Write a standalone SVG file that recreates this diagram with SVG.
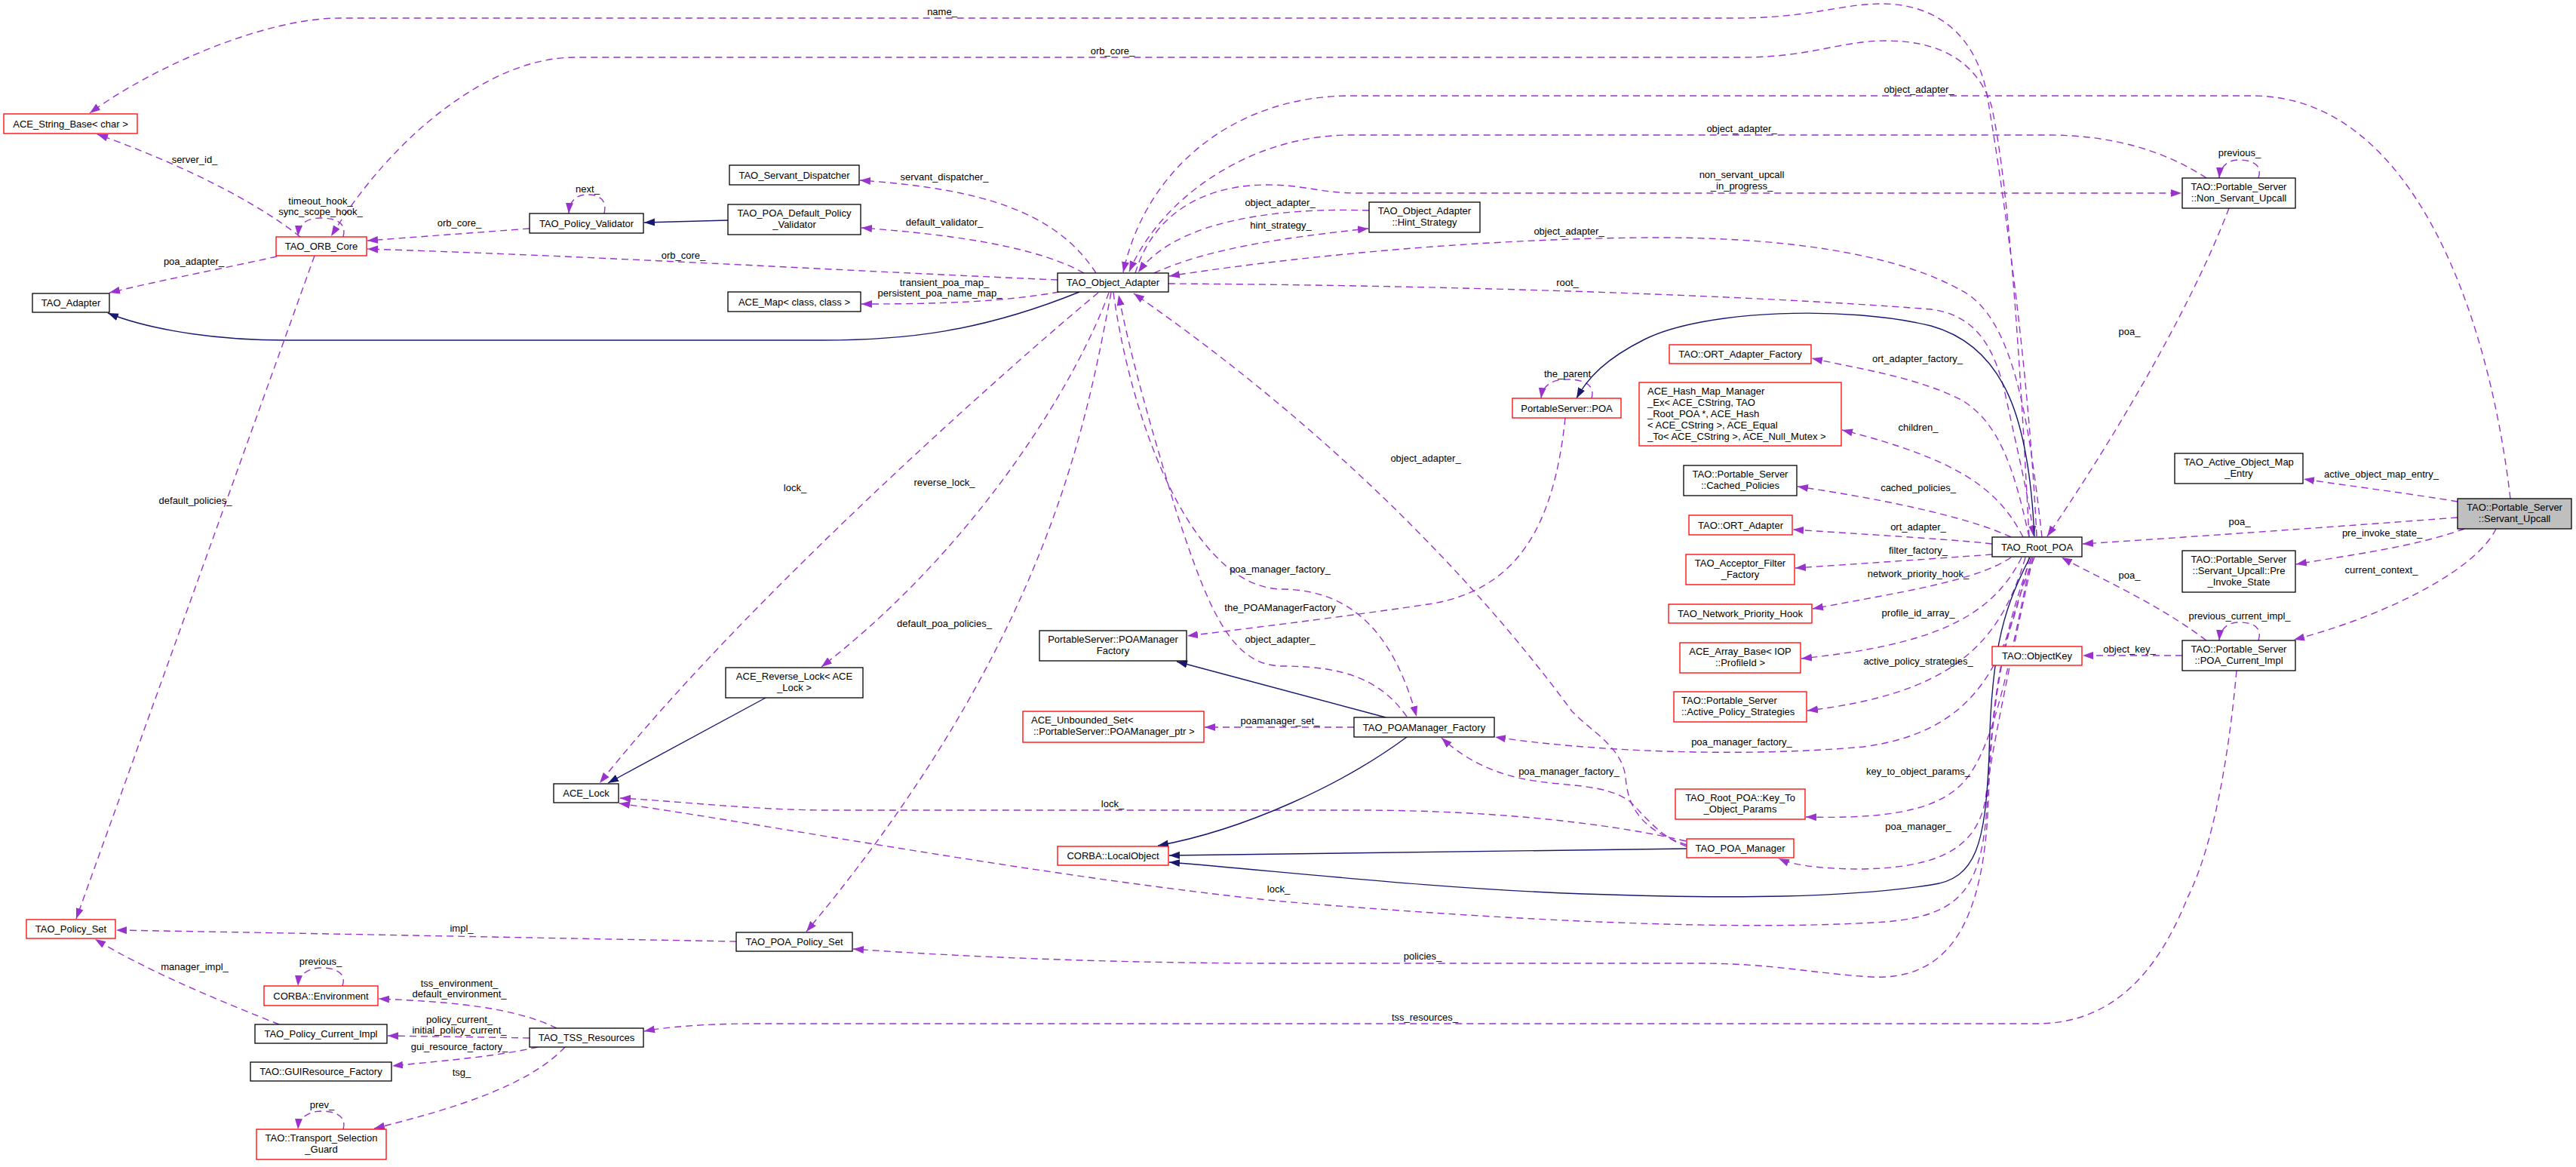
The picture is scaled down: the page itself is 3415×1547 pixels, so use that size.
<svg xmlns="http://www.w3.org/2000/svg" width="3415" height="1547" viewBox="0 0 3415 1547">
<style>
text{font-family:"Liberation Sans",Arial,Helvetica,sans-serif;font-size:13px;fill:#000}
.nd rect{fill:#fff;stroke:#000;stroke-width:1.3}
.rd rect{stroke:#f00}
.gy rect{fill:#bfbfbf}
.nd text{text-anchor:middle}
.nd text.l{text-anchor:start}
.e{fill:none;stroke:#9a32cd;stroke-width:1.4;stroke-dasharray:9,6;marker-end:url(#ap)}
.i{fill:none;stroke:#191970;stroke-width:1.4;marker-end:url(#an)}
.lb text{text-anchor:middle}
</style>
<defs>
<marker id="ap" markerUnits="userSpaceOnUse" viewBox="0 0 15 11" markerWidth="15" markerHeight="11" refX="14" refY="5.5" orient="auto"><path d="M0,0.5 L14,5.5 L0,10.5 z" fill="#9a32cd"/></marker>
<marker id="an" markerUnits="userSpaceOnUse" viewBox="0 0 15 11" markerWidth="15" markerHeight="11" refX="14" refY="5.5" orient="auto"><path d="M0,0.5 L14,5.5 L0,10.5 z" fill="#191970"/></marker>
</defs>
<rect width="3415" height="1547" fill="#fff"/>
<g id="connectors">
<path class="e" d="M2700,711 C2690,500 2660,280 2635,130 C2620,40 2560,5 2495,5 C2440,5 2400,24 2300,24 L450,24 C350,24 200,90 119,150"/>
<path class="e" d="M2690,711 C2680,520 2665,250 2640,140 C2620,80 2570,54 2500,54 C2440,54 2400,76 2310,76 L762,76 C650,76 520,180 439,313"/>
<path class="e" d="M3328,661 C3300,420 3200,127 2986,127 L1790,127 C1640,127 1520,220 1489,361"/>
<path class="e" d="M2925,236 C2870,200 2800,179 2715,179 L1790,179 C1660,179 1540,260 1497,360"/>
<path class="e" d="M1505,362 C1530,280 1600,245 1680,245 C1730,245 1750,256 1800,256 L2892,256"/>
<path class="e" d="M1815,279 C1700,275 1560,290 1509,361"/>
<path class="e" d="M1530,362 C1600,330 1700,315 1814,303"/>
<path class="e" d="M2707,712 C2690,560 2670,420 2600,385 C2530,345 2400,315 2200,315 C2000,315 1750,335 1550,366"/>
<path class="e" d="M1549,376 C1900,378 2300,390 2560,410 C2620,418 2645,460 2660,530 C2675,600 2690,660 2696,711"/>
<path class="e" d="M2690,712 C2670,620 2650,560 2600,530 C2540,500 2470,490 2402,475"/>
<path class="e" d="M2682,712 C2650,650 2600,610 2442,570"/>
<path class="e" d="M2666,712 C2620,690 2520,665 2383,645"/>
<path class="e" d="M2641,721 C2600,716 2500,710 2377,702"/>
<path class="e" d="M2641,735 C2600,738 2500,745 2380,753"/>
<path class="e" d="M2666,739 C2620,770 2520,785 2403,807"/>
<path class="e" d="M2680,739 C2640,820 2560,855 2388,873"/>
<path class="e" d="M2685,739 C2650,860 2580,920 2396,942"/>
<path class="e" d="M2690,739 C2660,880 2620,970 2470,990 C2300,1005 2100,995 1982,977"/>
<path class="e" d="M2693,739 C2660,900 2640,1000 2600,1040 C2560,1080 2480,1085 2394,1083"/>
<path class="e" d="M2695,739 C2660,900 2640,1000 2632,1060 C2620,1130 2560,1150 2470,1152 C2420,1152 2380,1148 2358,1138"/>
<path class="e" d="M2693,739 C2650,850 2640,950 2635,1050 C2630,1180 2600,1213 2500,1222 C2300,1235 2000,1220 1700,1195 C1400,1165 1000,1090 821,1065"/>
<path class="e" d="M2697,739 C2650,850 2640,950 2636,1060 C2630,1230 2580,1300 2480,1295 C2400,1290 2350,1277 2250,1277 L1700,1277 C1500,1277 1300,1270 1131,1258"/>
<path class="e" d="M2965,889 C2955,1000 2935,1120 2900,1190 C2860,1290 2800,1357 2700,1357 L1000,1357 C930,1357 880,1362 854,1367"/>
<path class="e" d="M1456,388 C1380,450 1000,780 795,1038"/>
<path class="e" d="M1470,388 C1430,500 1300,720 1089,884"/>
<path class="e" d="M1473,388 C1440,560 1390,850 1069,1235"/>
<path class="e" d="M1476,388 C1500,560 1580,780 1700,781 C1800,782 1850,850 1878,950"/>
<path class="e" d="M1865,950 C1830,900 1780,883 1700,883 C1630,883 1600,800 1560,680 C1530,580 1500,480 1483,391"/>
<path class="e" d="M2236,1120 C2175,1100 2158,1070 2155,1030 C2150,990 2110,970 2084,943 C1950,760 1750,560 1503,389"/>
<path class="e" d="M2075,554 C2060,700 2010,780 1900,800 C1800,815 1680,830 1574,843"/>
<path class="e" d="M1795,964 L1597,964"/>
<path class="e" d="M2236,1122 C2200,1110 2180,1080 2160,1062 C2130,1040 2080,1042 2040,1036 C1980,1028 1940,1005 1911,978"/>
<path class="e" d="M2235,1115 C2150,1095 2000,1074 1800,1074 L1100,1074 C1000,1074 900,1062 822,1058"/>
<path class="e" d="M1453,362 C1400,280 1300,250 1140,239"/>
<path class="e" d="M1437,362 C1380,330 1280,312 1142,302"/>
<path class="e" d="M1404,387 C1330,400 1250,403 1142,403"/>
<path class="e" d="M1402,371 C1100,358 800,340 487,330"/>
<path class="e" d="M702,303 L487,319"/>
<path class="e" d="M367,340 C300,355 220,370 145,388"/>
<path class="e" d="M398,314 C330,260 220,210 129,178"/>
<path class="e" d="M455,314 C460,295 445,289 425,289 C405,289 396,298 395,313"/>
<path class="e" d="M417,339 L101,1218"/>
<path class="e" d="M801,283 C805,265 795,258 779,258 C762,258 755,268 754,283"/>
<path class="e" d="M976,1248 C800,1245 400,1237 154,1233"/>
<path class="e" d="M370,1358 C300,1330 200,1290 126,1245"/>
<path class="e" d="M454,1307 C460,1290 445,1283 427,1283 C408,1283 396,1292 395,1307"/>
<path class="e" d="M738,1363 C680,1335 600,1328 502,1324"/>
<path class="e" d="M702,1376 L514,1373"/>
<path class="e" d="M713,1388 C660,1400 600,1405 520,1413"/>
<path class="e" d="M749,1388 C700,1440 600,1470 496,1496"/>
<path class="e" d="M455,1497 C460,1480 445,1473 427,1473 C408,1473 396,1482 395,1497"/>
<path class="e" d="M2994,236 C3000,218 2985,212 2968,212 C2952,212 2943,222 2942,236"/>
<path class="e" d="M2955,276 C2900,420 2790,600 2714,711"/>
<path class="e" d="M3258,665 C3200,655 3120,645 3054,635"/>
<path class="e" d="M3258,686 C3100,698 2900,712 2761,721"/>
<path class="e" d="M3267,701 C3200,725 3120,735 3044,748"/>
<path class="e" d="M3309,701 C3280,760 3150,820 3041,848"/>
<path class="e" d="M2925,849 C2860,800 2790,770 2733,739"/>
<path class="e" d="M2994,849 C3000,830 2985,825 2968,825 C2952,825 2943,835 2942,849"/>
<path class="e" d="M2893,869 L2761,869"/>
<path class="e" d="M2110,528 C2115,510 2100,503 2078,503 C2055,503 2045,512 2043,528"/>
<path class="i" d="M1431,387 C1300,440 1200,451 1090,451 L380,451 C260,451 180,430 143,415"/>
<path class="i" d="M965,292 L854,295"/>
<path class="i" d="M2697,711 C2690,560 2660,460 2560,432 C2450,405 2260,410 2180,450 C2130,475 2105,500 2090,528"/>
<path class="i" d="M1837,951 L1560,877"/>
<path class="i" d="M1865,977 C1780,1040 1650,1100 1535,1121"/>
<path class="i" d="M2236,1125 L1550,1134"/>
<path class="i" d="M2691,739 C2660,800 2640,850 2637,1000 C2632,1120 2620,1165 2560,1173 C2450,1190 2300,1192 2100,1185 C1900,1178 1700,1155 1550,1143"/>
<path class="i" d="M1015,925 L806,1038"/>
</g>
<g id="edge-labels" class="lb">
<text x="1249" y="20">name_</text>
<text x="1475" y="72">orb_core_</text>
<text x="258" y="216">server_id_</text>
<text x="425" y="271">timeout_hook_</text>
<text x="425" y="285">sync_scope_hook_</text>
<text x="779" y="255">next_</text>
<text x="609" y="300">orb_core_</text>
<text x="257" y="351">poa_adapter_</text>
<text x="1252" y="239">servant_dispatcher_</text>
<text x="1252" y="299">default_validator_</text>
<text x="906" y="343">orb_core_</text>
<text x="1252" y="379">transient_poa_map_</text>
<text x="1246" y="393">persistent_poa_name_map_</text>
<text x="1697" y="273">object_adapter_</text>
<text x="1698" y="303">hint_strategy_</text>
<text x="2544" y="123">object_adapter_</text>
<text x="2309" y="175">object_adapter_</text>
<text x="2309" y="236">non_servant_upcall</text>
<text x="2309" y="251">_in_progress_</text>
<text x="2080" y="311">object_adapter_</text>
<text x="2078" y="379">root_</text>
<text x="2542" y="480">ort_adapter_factory_</text>
<text x="2078" y="500">the_parent</text>
<text x="2969" y="207">previous_</text>
<text x="2823" y="444">poa_</text>
<text x="259" y="668">default_policies_</text>
<text x="1054" y="651">lock_</text>
<text x="1252" y="644">reverse_lock_</text>
<text x="1252" y="831">default_poa_policies_</text>
<text x="1697" y="759">poa_manager_factory_</text>
<text x="1697" y="810">the_POAManagerFactory</text>
<text x="1697" y="852">object_adapter_</text>
<text x="1697" y="960">poamanager_set_</text>
<text x="1890" y="612">object_adapter_</text>
<text x="2543" y="571">children_</text>
<text x="2543" y="651">cached_policies_</text>
<text x="2543" y="703">ort_adapter_</text>
<text x="2543" y="734">filter_factory_</text>
<text x="2543" y="765">network_priority_hook_</text>
<text x="2543" y="817">profile_id_array_</text>
<text x="2543" y="881">active_policy_strategies_</text>
<text x="2309" y="988">poa_manager_factory_</text>
<text x="2080" y="1027">poa_manager_factory_</text>
<text x="2543" y="1027">key_to_object_params_</text>
<text x="2543" y="1100">poa_manager_</text>
<text x="3157" y="633">active_object_map_entry_</text>
<text x="2969" y="696">poa_</text>
<text x="3158" y="711">pre_invoke_state_</text>
<text x="3157" y="760">current_context_</text>
<text x="2823" y="767">poa_</text>
<text x="2969" y="821">previous_current_impl_</text>
<text x="2823" y="865">object_key_</text>
<text x="1475" y="1070">lock_</text>
<text x="1695" y="1183">lock_</text>
<text x="1886" y="1272">policies_</text>
<text x="1889" y="1353">tss_resources_</text>
<text x="612" y="1235">impl_</text>
<text x="258" y="1286">manager_impl_</text>
<text x="425" y="1279">previous_</text>
<text x="609" y="1308">tss_environment_</text>
<text x="609" y="1322">default_environment_</text>
<text x="609" y="1356">policy_current_</text>
<text x="609" y="1370">initial_policy_current_</text>
<text x="609" y="1392">gui_resource_factory_</text>
<text x="612" y="1426">tsg_</text>
<text x="427" y="1469">prev_</text>
</g>
<g id="ACE_String_Base" class="nd rd"><rect x="5" y="151" width="177" height="26"/><text x="93.5" y="168.5">ACE_String_Base&lt; char &gt;</text></g>
<g id="TAO_ORB_Core" class="nd rd"><rect x="366" y="314" width="120" height="25"/><text x="426" y="331">TAO_ORB_Core</text></g>
<g id="TAO_Adapter" class="nd"><rect x="43" y="389" width="102" height="25"/><text x="94" y="406">TAO_Adapter</text></g>
<g id="TAO_Policy_Validator" class="nd"><rect x="702" y="283" width="151" height="26"/><text x="777.5" y="300.5">TAO_Policy_Validator</text></g>
<g id="TAO_Servant_Dispatcher" class="nd"><rect x="967" y="219" width="172" height="26"/><text x="1053" y="236.5">TAO_Servant_Dispatcher</text></g>
<g id="TAO_POA_Default_Policy_Validator" class="nd"><rect x="965" y="271" width="176" height="40"/><text x="1053" y="286.5">TAO_POA_Default_Policy<tspan x="1053" dy="15">_Validator</tspan></text></g>
<g id="TAO_Object_Adapter" class="nd"><rect x="1402" y="362" width="147" height="25"/><text x="1475.5" y="379">TAO_Object_Adapter</text></g>
<g id="ACE_Map" class="nd"><rect x="965" y="387" width="176" height="26"/><text x="1053" y="404.5">ACE_Map&lt; class, class &gt;</text></g>
<g id="Hint_Strategy" class="nd"><rect x="1815" y="268" width="147" height="40"/><text x="1888.5" y="283.5">TAO_Object_Adapter<tspan x="1888.5" dy="15">::Hint_Strategy</tspan></text></g>
<g id="Non_Servant_Upcall" class="nd"><rect x="2893" y="236" width="150" height="40"/><text x="2968" y="251.5">TAO::Portable_Server<tspan x="2968" dy="15">::Non_Servant_Upcall</tspan></text></g>
<g id="ORT_Adapter_Factory" class="nd rd"><rect x="2213" y="457" width="188" height="25"/><text x="2307" y="474">TAO::ORT_Adapter_Factory</text></g>
<g id="PortableServer_POA" class="nd rd"><rect x="2005" y="528" width="144" height="26"/><text x="2077" y="545.5">PortableServer::POA</text></g>
<g id="ACE_Hash_Map_Manager" class="nd rd"><rect x="2173" y="507" width="268" height="84"/><text class="l" x="2184" y="522.5">ACE_Hash_Map_Manager<tspan x="2184" dy="15">_Ex&lt; ACE_CString, TAO</tspan><tspan x="2184" dy="15">_Root_POA *, ACE_Hash</tspan><tspan x="2184" dy="15">&lt; ACE_CString &gt;, ACE_Equal</tspan><tspan x="2184" dy="15">_To&lt; ACE_CString &gt;, ACE_Null_Mutex &gt;</tspan></text></g>
<g id="Cached_Policies" class="nd"><rect x="2232" y="617" width="150" height="40"/><text x="2307" y="632.5">TAO::Portable_Server<tspan x="2307" dy="15">::Cached_Policies</tspan></text></g>
<g id="ORT_Adapter" class="nd rd"><rect x="2239" y="683" width="137" height="26"/><text x="2307.5" y="700.5">TAO::ORT_Adapter</text></g>
<g id="Acceptor_Filter_Factory" class="nd rd"><rect x="2235" y="735" width="144" height="40"/><text x="2307" y="750.5">TAO_Acceptor_Filter<tspan x="2307" dy="15">_Factory</tspan></text></g>
<g id="Network_Priority_Hook" class="nd rd"><rect x="2212" y="801" width="190" height="25"/><text x="2307" y="818">TAO_Network_Priority_Hook</text></g>
<g id="ACE_Array_Base" class="nd rd"><rect x="2227" y="852" width="160" height="40"/><text x="2307" y="867.5">ACE_Array_Base&lt; IOP<tspan x="2307" dy="15">::ProfileId &gt;</tspan></text></g>
<g id="Active_Policy_Strategies" class="nd rd"><rect x="2219" y="917" width="176" height="40"/><text class="l" x="2229" y="932.5">TAO::Portable_Server<tspan x="2229" dy="15">::Active_Policy_Strategies</tspan></text></g>
<g id="TAO_Root_POA" class="nd"><rect x="2641" y="712" width="119" height="26"/><text x="2700.5" y="729.5">TAO_Root_POA</text></g>
<g id="Active_Object_Map_Entry" class="nd"><rect x="2883" y="601" width="170" height="40"/><text x="2968" y="616.5">TAO_Active_Object_Map<tspan x="2968" dy="15">_Entry</tspan></text></g>
<g id="Servant_Upcall" class="nd gy"><rect x="3258" y="661" width="151" height="40"/><text x="3333.5" y="676.5">TAO::Portable_Server<tspan x="3333.5" dy="15">::Servant_Upcall</tspan></text></g>
<g id="Pre_Invoke_State" class="nd"><rect x="2893" y="730" width="150" height="55"/><text x="2968" y="745.5">TAO::Portable_Server<tspan x="2968" dy="15">::Servant_Upcall::Pre</tspan><tspan x="2968" dy="15">_Invoke_State</tspan></text></g>
<g id="POA_Current_Impl" class="nd"><rect x="2893" y="849" width="150" height="40"/><text x="2968" y="864.5">TAO::Portable_Server<tspan x="2968" dy="15">::POA_Current_Impl</tspan></text></g>
<g id="ObjectKey" class="nd rd"><rect x="2641" y="857" width="119" height="25"/><text x="2700.5" y="874">TAO::ObjectKey</text></g>
<g id="POAManagerFactory" class="nd"><rect x="1378" y="836" width="195" height="40"/><text x="1475.5" y="851.5">PortableServer::POAManager<tspan x="1475.5" dy="15">Factory</tspan></text></g>
<g id="ACE_Reverse_Lock" class="nd"><rect x="962" y="885" width="182" height="40"/><text x="1053" y="900.5">ACE_Reverse_Lock&lt; ACE<tspan x="1053" dy="15">_Lock &gt;</tspan></text></g>
<g id="ACE_Unbounded_Set" class="nd rd"><rect x="1356" y="943" width="240" height="41"/><text class="l" x="1367" y="958.5">ACE_Unbounded_Set&lt;<tspan x="1370" dy="15">::PortableServer::POAManager_ptr &gt;</tspan></text></g>
<g id="TAO_POAManager_Factory" class="nd"><rect x="1795" y="951" width="186" height="26"/><text x="1888" y="968.5">TAO_POAManager_Factory</text></g>
<g id="ACE_Lock" class="nd"><rect x="734" y="1039" width="86" height="25"/><text x="777" y="1056">ACE_Lock</text></g>
<g id="LocalObject" class="nd rd"><rect x="1402" y="1122" width="147" height="25"/><text x="1475.5" y="1139">CORBA::LocalObject</text></g>
<g id="Key_To_Object_Params" class="nd rd"><rect x="2221" y="1046" width="172" height="40"/><text x="2307" y="1061.5">TAO_Root_POA::Key_To<tspan x="2307" dy="15">_Object_Params</tspan></text></g>
<g id="TAO_POA_Manager" class="nd rd"><rect x="2236" y="1112" width="142" height="25"/><text x="2307" y="1129">TAO_POA_Manager</text></g>
<g id="TAO_POA_Policy_Set" class="nd"><rect x="976" y="1236" width="154" height="25"/><text x="1053" y="1253">TAO_POA_Policy_Set</text></g>
<g id="TAO_Policy_Set" class="nd rd"><rect x="35" y="1219" width="118" height="25"/><text x="94" y="1236">TAO_Policy_Set</text></g>
<g id="CORBA_Environment" class="nd rd"><rect x="350" y="1307" width="151" height="26"/><text x="425.5" y="1324.5">CORBA::Environment</text></g>
<g id="TAO_Policy_Current_Impl" class="nd"><rect x="338" y="1358" width="175" height="25"/><text x="425.5" y="1375">TAO_Policy_Current_Impl</text></g>
<g id="TAO_TSS_Resources" class="nd"><rect x="702" y="1363" width="151" height="25"/><text x="777.5" y="1380">TAO_TSS_Resources</text></g>
<g id="GUIResource_Factory" class="nd"><rect x="332" y="1408" width="187" height="25"/><text x="425.5" y="1425">TAO::GUIResource_Factory</text></g>
<g id="Transport_Selection_Guard" class="nd rd"><rect x="340" y="1497" width="172" height="40"/><text x="426" y="1512.5">TAO::Transport_Selection<tspan x="426" dy="15">_Guard</tspan></text></g>
</svg>
